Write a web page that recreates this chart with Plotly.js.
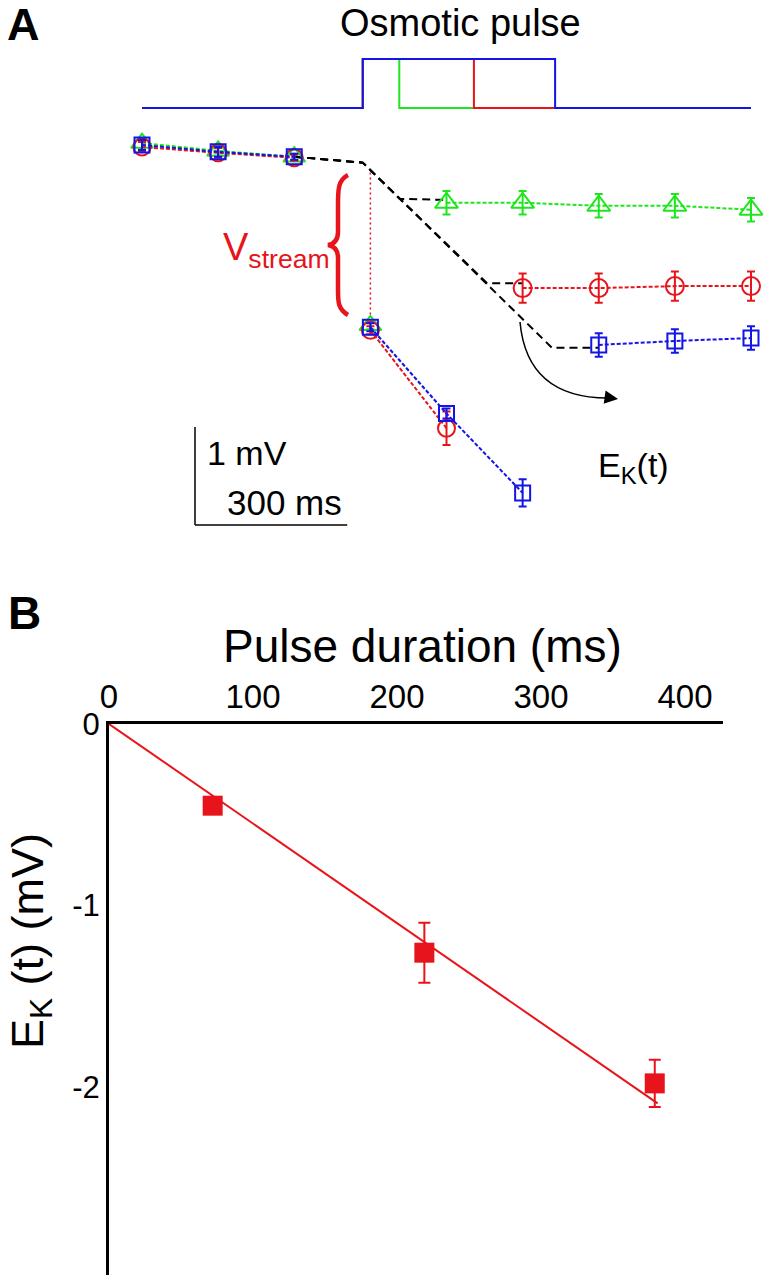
<!DOCTYPE html>
<html><head><meta charset="utf-8">
<script src="https://cdn.plot.ly/plotly-3.0.1.min.js"></script>
<style>html,body{margin:0;padding:0;background:#fff}#chart{width:766px;height:1280px}</style>
</head><body><div id="chart"></div>
<script>
// ---------- Panel A data: time (ms), voltage (mV, relative to first sample) ----------
const tPre = [0, 150, 300];
const preErr = [0.05, 0.05, 0.03];
const greenPreV = [0.02, -0.06, -0.12];
const redPreV = [-0.02, -0.08, -0.13];
const bluePreV = [0.0, -0.07, -0.12];

const greenStreamT = [450];
const greenStreamV = [-1.84];
const greenStreamE = [0.04];
const redStreamT = [450, 600];
const redStreamV = [-1.89, -2.89];
const redStreamE = [0.04, 0.17];
const blueStreamT = [450, 600, 750];
const blueStreamV = [-1.86, -2.74, -3.55];
const blueStreamE = [0.04, 0.05, 0.14];

const greenPostT = [600, 750, 900, 1050, 1200];
const greenPostV = [-0.59, -0.59, -0.62, -0.62, -0.66];
const greenPostE = [0.12, 0.12, 0.12, 0.12, 0.12];
const redPostT = [750, 900, 1050, 1200];
const redPostV = [-1.46, -1.46, -1.44, -1.44];
const redPostE = [0.15, 0.15, 0.15, 0.15];
const bluePostT = [900, 1050, 1200];
const bluePostV = [-2.04, -2.00, -1.97];
const bluePostE = [0.12, 0.12, 0.12];

// E_K(t) dashed estimates
const ekGreenT = [300, 435, 508, 600];
const ekGreenV = [-0.12, -0.18, -0.55, -0.56];
const ekRedT = [300, 435, 680, 750];
const ekRedV = [-0.12, -0.18, -1.41, -1.41];
const ekBlueT = [300, 435, 808, 900];
const ekBlueV = [-0.12, -0.18, -2.07, -2.07];

// Osmotic pulse protocol (ms)
const pulseStart = 435;
const pulseDur = [72, 219, 379];   // green, red, blue
const recordEnd = 1200;

// V_stream marker
const vStreamT = 450;
const vStreamTop = -0.28;
const vStreamBottom = -1.73;

// Scale bar
const scaleBarT = 300;   // ms
const scaleBarV = 1;     // mV

// ---------- Panel B data ----------
const durB = [72, 219, 379];
const ekB = [-0.45, -1.26, -1.98];
const ekBErr = [0.03, 0.165, 0.13];
const fitT = [0, 381];
const fitV = [0, -2.09];

// ---------- styling ----------
const RED = '#e8141b', GREEN = '#1ee61e', BLUE = '#1414e6';
const FONT = 'Liberation Sans, Arial, sans-serif';
const W = 766, H = 1280;

// panel A pixel mapping (used for decorations only)
const AX0 = 142, KX = 0.5075, AY0 = 145, KY = 98;
const tOf = px => (px - AX0) / KX;
const vOf = py => (AY0 - py) / KY;
const xr2 = [tOf(0), tOf(W)];
const yr2 = [vOf(560), vOf(0)];
// pulse axis: level 0 at px 108, level 1 at px 59
const P0 = 108, PK = 49;
const yr3 = [(P0 - 560) / PK, (P0 - 0) / PK];

const traces = [];
function pulseTrace(d, color) {
  const end = pulseStart + d;
  return {x: [0, pulseStart, pulseStart, end, end, recordEnd], y: [0, 0, 1, 1, 0, 0],
    xaxis: 'x2', yaxis: 'y3', mode: 'lines', line: {color: color, width: 2}, hoverinfo: 'skip'};
}
traces.push(pulseTrace(pulseDur[0], GREEN));
traces.push(pulseTrace(pulseDur[1], RED));
traces.push(pulseTrace(pulseDur[2], BLUE));

function ek(t, v) {
  return {x: t, y: v, xaxis: 'x2', yaxis: 'y2', mode: 'lines',
    line: {color: '#000', width: 2, dash: '8px,5px'}, hoverinfo: 'skip'};
}
traces.push(ek(ekGreenT, ekGreenV), ek(ekRedT, ekRedV), ek(ekBlueT, ekBlueV));

function ser(t, v, e, color, symbol, size) {
  return {x: t, y: v, xaxis: 'x2', yaxis: 'y2', mode: 'lines+markers',
    line: {color: color, width: 2, dash: '4px,2px'},
    marker: {symbol: symbol, size: size, color: color, line: {color: color, width: 2}},
    error_y: {type: 'data', array: e, color: color, thickness: 2, width: 4}, hoverinfo: 'skip'};
}
traces.push(ser(tPre, greenPreV, preErr, GREEN, 'triangle-up-open', 19));
traces.push(ser(tPre, redPreV, preErr, RED, 'circle-open', 17));
traces.push(ser(tPre, bluePreV, preErr, BLUE, 'square-open', 15));
traces.push(ser(greenStreamT, greenStreamV, greenStreamE, GREEN, 'triangle-up-open', 19));
traces.push(ser(redStreamT, redStreamV, redStreamE, RED, 'circle-open', 17));
traces.push(ser(blueStreamT, blueStreamV, blueStreamE, BLUE, 'square-open', 15));
traces.push(ser(greenPostT, greenPostV, greenPostE, GREEN, 'triangle-up-open', 20));
traces.push(ser(redPostT, redPostV, redPostE, RED, 'circle-open', 18));
traces.push(ser(bluePostT, bluePostV, bluePostE, BLUE, 'square-open', 15));

// Panel B
traces.push({x: fitT, y: fitV, xaxis: 'x', yaxis: 'y', mode: 'lines',
  line: {color: RED, width: 2}, hoverinfo: 'skip'});
traces.push({x: durB, y: ekB, xaxis: 'x', yaxis: 'y', mode: 'markers',
  marker: {symbol: 'square', size: 20, color: RED},
  error_y: {type: 'data', array: ekBErr, color: RED, thickness: 2, width: 6}, hoverinfo: 'skip'});

// decorations (panel A)
function pth(pts) {
  return pts.map(p => (typeof p === 'string') ? p : (tOf(p[0]).toFixed(3) + ',' + vOf(p[1]).toFixed(4))).join(' ');
}
const bracePath = pth(['M', [348, 175], 'C', [338, 180], [338, 190], [338, 205], 'L', [338, 232],
  'C', [338, 240], [334, 244], [328, 245], 'C', [334, 246], [338, 250], [338, 258], 'L', [338, 290],
  'C', [338, 302], [338, 309], [348, 315]]);
const arrowPath = pth(['M', [520, 322], 'Q', [527, 398], [608, 398]]);

const sbT0 = tOf(195), sbV0 = vOf(525);
const shapes = [
  {type: 'line', xref: 'x2', yref: 'y2', x0: sbT0, x1: sbT0, y0: sbV0, y1: sbV0 + scaleBarV, line: {color: '#000', width: 1.5}},
  {type: 'line', xref: 'x2', yref: 'y2', x0: sbT0, x1: sbT0 + scaleBarT, y0: sbV0, y1: sbV0, line: {color: '#000', width: 1.5}},
  {type: 'line', xref: 'x2', yref: 'y2', x0: vStreamT, x1: vStreamT, y0: vStreamTop, y1: vStreamBottom, line: {color: RED, width: 1.5, dash: '2px,3px'}},
  {type: 'path', xref: 'x2', yref: 'y2', path: bracePath, line: {color: RED, width: 4.5}},
  {type: 'path', xref: 'x2', yref: 'y2', path: arrowPath, line: {color: '#000', width: 1.5}}
];

const px = x => x / W, py = y => 1 - y / H;
function txt(text, x, y, size, opts) {
  return Object.assign({text: text, xref: 'paper', yref: 'paper', x: px(x), y: py(y), showarrow: false,
    xanchor: 'left', yanchor: 'middle', font: {family: FONT, size: size, color: '#000'}}, opts || {});
}
const annotations = [
  txt('<b>A</b>', 6, 24, 45, {borderpad: 0}),
  txt('Osmotic pulse', 461, 23, 38, {xanchor: 'center'}),
  txt('V<sub>stream</sub>', 221, 250, 38, {font: {family: FONT, size: 38, color: RED}}),
  txt('1 mV', 205, 453, 34),
  txt('300 ms', 225, 502, 35),
  txt('E<sub>K</sub>(t)', 596, 467, 34),
  {xref: 'x2', yref: 'y2', x: tOf(618), y: vOf(399), ax: -14, ay: -2, text: '', showarrow: true,
    arrowhead: 2, arrowsize: 1.8, arrowwidth: 1.5, arrowcolor: '#000'},
  txt('<b>B</b>', 6, 613, 46),
  txt('Pulse duration (ms)', 422, 646, 46, {xanchor: 'center'}),
  txt('E<sub>K</sub> (t) (mV)', 30, 941, 45, {xanchor: 'center', textangle: -90})
];

const layout = {
  width: W, height: H, margin: {l: 0, r: 0, t: 0, b: 0},
  paper_bgcolor: '#fff', plot_bgcolor: 'rgba(0,0,0,0)', showlegend: false,
  font: {family: FONT, color: '#000'},
  xaxis: {domain: [109 / W, 723 / W], range: [0, (723 - 109) / 1.44], anchor: 'y', side: 'top',
    showline: true, linecolor: '#000', linewidth: 3, showgrid: false, zeroline: false, ticks: '',
    tickvals: [0, 100, 200, 300, 400], ticktext: ['0', '100', '200', '300', '400'],
    tickfont: {family: FONT, size: 33, color: '#000'}},
  yaxis: {domain: [1 - 1275 / H, 1 - 724 / H], range: [-(1275 - 724) / 181.5, 0], anchor: 'x',
    showline: true, linecolor: '#000', linewidth: 3, showgrid: false, zeroline: false, ticks: '',
    tickvals: [0, -1, -2], ticktext: ['0', '-1', '-2'],
    tickfont: {family: FONT, size: 31, color: '#000'}},
  xaxis2: {domain: [0, 1], range: xr2, anchor: 'y2', visible: false, fixedrange: true},
  yaxis2: {domain: [1 - 560 / H, 1], range: yr2, anchor: 'x2', visible: false, fixedrange: true},
  yaxis3: {overlaying: 'y2', range: yr3, anchor: 'x2', visible: false, fixedrange: true},
  shapes: shapes, annotations: annotations, hovermode: false
};
Plotly.newPlot('chart', traces, layout, {staticPlot: true, displayModeBar: false});
</script></body></html>
